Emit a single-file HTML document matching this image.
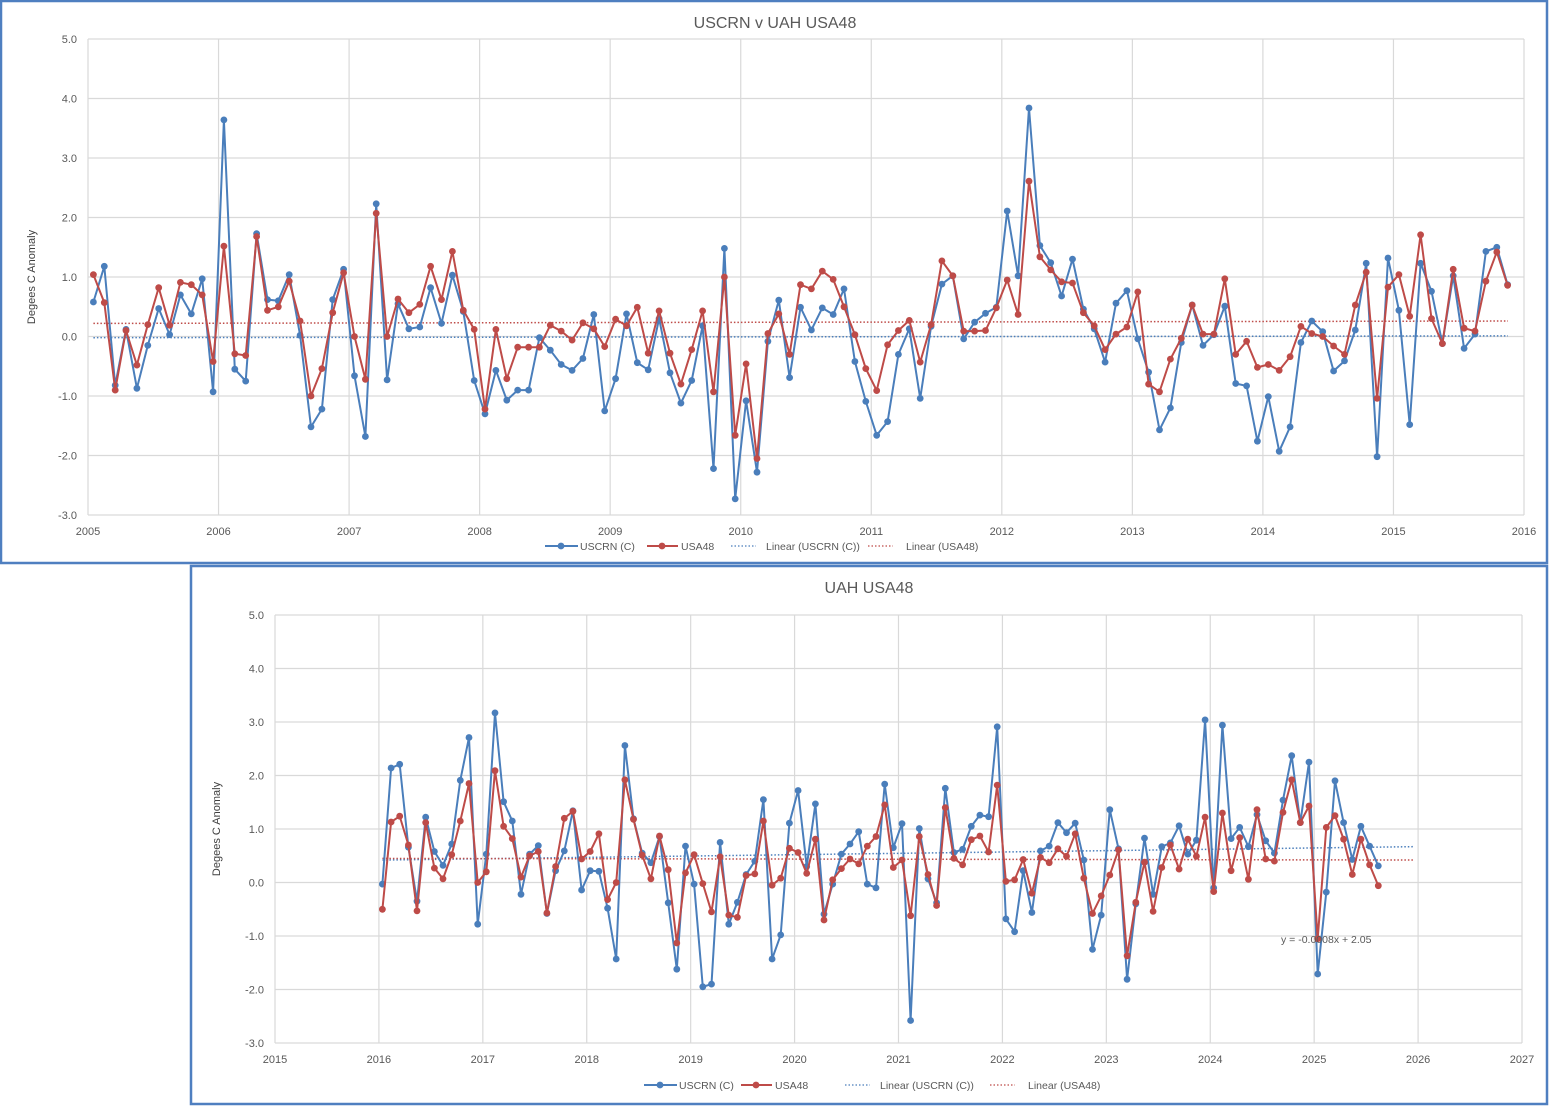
<!DOCTYPE html>
<html><head><meta charset="utf-8"><style>
html,body{margin:0;padding:0;background:#fff;}
svg{display:block;font-family:"Liberation Sans",sans-serif;}
</style></head><body>
<svg id="s" width="1550" height="1106" xmlns="http://www.w3.org/2000/svg"></svg>
<script>
const S=document.getElementById('s');let h='';
const B='#4a7ebb',R='#be4b48',G='#d9d9d9',T='#595959';
h+=`<rect x="0" y="0" width="1550" height="1106" fill="#fff"/>`;
h+=`<rect x="1" y="1" width="1546" height="562" fill="none" stroke="#4f7fc0" stroke-width="2.5"/>`;
h+=`<rect x="191" y="566" width="1356" height="538" fill="none" stroke="#4f7fc0" stroke-width="2.5"/>`;
function chart(o){
 const {x0,x1,y0,y1,yr0,yr1}=o;
 const yv=v=>y1-(v+3)*(y1-y0)/8;
 const xw=(x1-x0)/(yr1-yr0);
 for(let v=-3;v<=5;v++){const y=yv(v);h+=`<line x1="${x0}" y1="${y}" x2="${x1}" y2="${y}" stroke="${G}" stroke-width="1.2"/>`;
  h+=`<text x="${x0-11}" y="${y+4}" font-size="11" fill="${T}" text-anchor="end">${v.toFixed(1)}</text>`;}
 for(let yr=yr0;yr<=yr1;yr++){const x=x0+(yr-yr0)*xw;h+=`<line x1="${x}" y1="${y0}" x2="${x}" y2="${y1}" stroke="${G}" stroke-width="1.2"/>`;
  h+=`<text x="${x}" y="${y1+20}" font-size="11" fill="${T}" text-anchor="middle">${yr}</text>`;}
 const mx=i=>o.firstX+i*xw/12;
 // trends
 const n=o.blue.length;
 h+=`<line x1="${mx(0)}" y1="${yv(o.tb[0])}" x2="${o.tEnd}" y2="${yv(o.tb[1])}" stroke="${B}" stroke-width="1.5" stroke-dasharray="1.5,2"/>`;
 h+=`<line x1="${mx(0)}" y1="${yv(o.tr[0])}" x2="${o.tEnd}" y2="${yv(o.tr[1])}" stroke="${R}" stroke-width="1.5" stroke-dasharray="1.5,2"/>`;
 for(const [d,c] of [[o.blue,B],[o.red,R]]){
  h+=`<polyline fill="none" stroke="${c}" stroke-width="2" points="${d.map((v,i)=>mx(i).toFixed(1)+','+yv(v).toFixed(1)).join(' ')}"/>`;
  d.forEach((v,i)=>h+=`<circle cx="${mx(i).toFixed(1)}" cy="${yv(v).toFixed(1)}" r="3.4" fill="${c}"/>`);
 }
 h+=`<text x="${o.tx}" y="${o.ty}" font-size="16" fill="${T}" text-anchor="middle">${o.title}</text>`;
 h+=`<text transform="translate(${o.ax},${(y0+y1)/2}) rotate(-90)" font-size="11" fill="#404040" text-anchor="middle">Degees C Anomaly</text>`;
 const L=o.leg,ly=o.ly;
 h+=`<line x1="${L[0]}" y1="${ly}" x2="${L[0]+33}" y2="${ly}" stroke="${B}" stroke-width="2"/><circle cx="${L[0]+16}" cy="${ly}" r="3.4" fill="${B}"/><text x="${L[0]+35}" y="${ly+4}" font-size="10.5" fill="${T}">USCRN (C)</text>`;
 h+=`<line x1="${L[1]}" y1="${ly}" x2="${L[1]+31}" y2="${ly}" stroke="${R}" stroke-width="2"/><circle cx="${L[1]+15}" cy="${ly}" r="3.4" fill="${R}"/><text x="${L[1]+34}" y="${ly+4}" font-size="10.5" fill="${T}">USA48</text>`;
 h+=`<line x1="${L[2]}" y1="${ly}" x2="${L[2]+25}" y2="${ly}" stroke="${B}" stroke-width="1.3" stroke-dasharray="1.5,2"/><text x="${L[2]+35}" y="${ly+4}" font-size="10.5" fill="${T}">Linear (USCRN (C))</text>`;
 h+=`<line x1="${L[3]}" y1="${ly}" x2="${L[3]+25}" y2="${ly}" stroke="${R}" stroke-width="1.3" stroke-dasharray="1.5,2"/><text x="${L[3]+38}" y="${ly+4}" font-size="10.5" fill="${T}">Linear (USA48)</text>`;
}
const tb=[0.58,1.18,-0.82,0.12,-0.87,-0.15,0.47,0.03,0.70,0.38,0.97,-0.93,
3.64,-0.55,-0.75,1.73,0.62,0.60,1.04,0.02,-1.52,-1.22,0.62,1.13,
-0.66,-1.68,2.23,-0.73,0.55,0.13,0.16,0.82,0.22,1.03,0.42,-0.74,
-1.30,-0.57,-1.07,-0.90,-0.90,-0.02,-0.23,-0.47,-0.57,-0.37,0.37,-1.25,
-0.71,0.38,-0.44,-0.56,0.30,-0.61,-1.12,-0.74,0.18,-2.22,1.48,-2.73,
-1.08,-2.28,-0.08,0.61,-0.69,0.49,0.11,0.48,0.37,0.80,-0.42,-1.09,
-1.66,-1.43,-0.30,0.13,-1.04,0.17,0.88,1.02,-0.04,0.24,0.39,0.49,
2.11,1.02,3.84,1.53,1.24,0.68,1.30,0.46,0.13,-0.43,0.56,0.77,
-0.04,-0.60,-1.57,-1.20,-0.10,0.53,-0.15,0.03,0.51,-0.79,-0.83,-1.76,
-1.01,-1.93,-1.52,-0.10,0.26,0.08,-0.58,-0.41,0.11,1.23,-2.02,1.32,
0.44,-1.48,1.23,0.76,-0.12,1.02,-0.20,0.04,1.43,1.50,0.87];
const tr=[1.04,0.57,-0.90,0.10,-0.48,0.20,0.82,0.19,0.91,0.87,0.70,-0.42,
1.52,-0.29,-0.32,1.68,0.44,0.50,0.93,0.26,-1.00,-0.54,0.40,1.07,
0.00,-0.72,2.07,0.00,0.63,0.40,0.54,1.18,0.62,1.43,0.44,0.12,
-1.22,0.12,-0.71,-0.18,-0.18,-0.18,0.19,0.09,-0.06,0.23,0.13,-0.17,
0.29,0.18,0.49,-0.28,0.43,-0.28,-0.80,-0.22,0.43,-0.93,1.00,-1.66,
-0.46,-2.05,0.05,0.38,-0.30,0.87,0.80,1.10,0.96,0.50,0.03,-0.54,
-0.91,-0.14,0.10,0.27,-0.43,0.20,1.27,1.02,0.09,0.09,0.10,0.48,
0.95,0.37,2.61,1.34,1.12,0.92,0.90,0.40,0.18,-0.22,0.04,0.16,
0.75,-0.80,-0.93,-0.38,-0.03,0.53,0.04,0.04,0.97,-0.30,-0.08,-0.52,
-0.47,-0.57,-0.34,0.17,0.05,0.00,-0.16,-0.30,0.53,1.08,-1.04,0.83,
1.04,0.34,1.71,0.30,-0.12,1.13,0.14,0.09,0.93,1.42,0.86];
chart({x0:88,x1:1524,y0:39,y1:515,yr0:2005,yr1:2016,firstX:93.4,blue:tb,red:tr,tb:[-0.02,0.01],tr:[0.22,0.26],tEnd:1508,
 title:'USCRN v UAH USA48',tx:775,ty:28,ax:35,leg:[545,647,731,868],ly:546});
const bb=[-0.03,2.14,2.21,0.66,-0.35,1.22,0.58,0.32,0.72,1.91,2.71,-0.78,
0.53,3.17,1.51,1.15,-0.22,0.53,0.69,-0.58,0.22,0.59,1.34,-0.14,
0.22,0.21,-0.48,-1.43,2.56,1.19,0.55,0.37,0.86,-0.38,-1.62,0.68,
-0.03,-1.95,-1.90,0.75,-0.78,-0.37,0.15,0.40,1.55,-1.43,-0.98,1.11,
1.72,0.30,1.47,-0.59,-0.03,0.53,0.72,0.95,-0.03,-0.10,1.84,0.65,
1.10,-2.58,1.01,0.07,-0.38,1.76,0.56,0.62,1.05,1.26,1.23,2.91,
-0.68,-0.92,0.22,-0.56,0.59,0.68,1.12,0.93,1.11,0.42,-1.25,-0.61,
1.36,0.63,-1.81,-0.40,0.83,-0.22,0.67,0.74,1.06,0.53,0.79,3.04,
-0.10,2.94,0.82,1.03,0.67,1.27,0.78,0.55,1.54,2.37,1.12,2.25,
-1.71,-0.18,1.90,1.12,0.43,1.05,0.68,0.31];
const br=[-0.50,1.13,1.24,0.70,-0.53,1.12,0.27,0.07,0.52,1.15,1.85,0.00,
0.20,2.09,1.05,0.82,0.10,0.50,0.58,-0.57,0.30,1.20,1.33,0.44,
0.58,0.91,-0.32,0.00,1.92,1.18,0.51,0.07,0.87,0.24,-1.13,0.18,
0.52,-0.02,-0.55,0.48,-0.61,-0.65,0.13,0.16,1.15,-0.05,0.08,0.64,
0.56,0.17,0.81,-0.70,0.05,0.26,0.44,0.35,0.68,0.86,1.45,0.28,
0.42,-0.62,0.86,0.15,-0.43,1.40,0.45,0.33,0.80,0.87,0.57,1.82,
0.02,0.05,0.43,-0.20,0.47,0.37,0.63,0.49,0.91,0.08,-0.58,-0.25,
0.14,0.61,-1.37,-0.37,0.38,-0.54,0.28,0.70,0.25,0.81,0.49,1.22,
-0.17,1.30,0.22,0.84,0.06,1.36,0.44,0.40,1.31,1.92,1.12,1.43,
-1.05,1.03,1.25,0.81,0.15,0.81,0.33,-0.06];
chart({x0:275,x1:1522,y0:615,y1:1043,yr0:2015,yr1:2027,firstX:382.4,blue:bb,red:br,tb:[0.42,0.67],tr:[0.45,0.42],tEnd:1414,
 title:'UAH USA48',tx:869,ty:593,ax:220,leg:[644,741,845,990],ly:1085});
h+=`<text x="1281" y="943" font-size="10.5" fill="${T}">y = -0.0008x + 2.05</text>`;
S.innerHTML=h;
</script>
</body></html>
